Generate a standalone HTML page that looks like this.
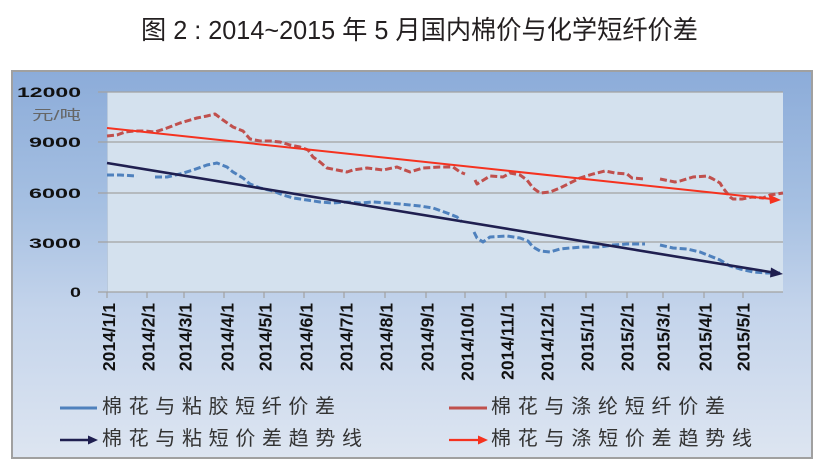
<!DOCTYPE html>
<html>
<head>
<meta charset="utf-8">
<style>
html,body{margin:0;padding:0;background:#fff;}
svg{display:block;}
</style>
</head>
<body>
<svg width="823" height="468" viewBox="0 0 823 468" xmlns="http://www.w3.org/2000/svg">
  <defs>
    <linearGradient id="bg" x1="0" y1="0" x2="0" y2="1">
      <stop offset="0" stop-color="#8cacd9"/>
      <stop offset="0.35" stop-color="#a6c0e2"/>
      <stop offset="0.62" stop-color="#c4d4eb"/>
      <stop offset="1" stop-color="#dde5f1"/>
    </linearGradient>
  </defs>

  <!-- Title -->
  <text x="141" y="39" font-family="'Liberation Sans','Noto Sans CJK SC',sans-serif" font-size="26" fill="#231f20" textLength="557" lengthAdjust="spacingAndGlyphs">图 2 : 2014~2015 年 5 月国内棉价与化学短纤价差</text>

  <!-- Chart box -->
  <rect x="12" y="71" width="800" height="387" fill="url(#bg)" stroke="#a0a0a0" stroke-width="2"/>

  <!-- Plot area -->
  <rect x="107" y="92" width="676" height="200" fill="#d4e1ee"/>
  <line x1="107.5" y1="92" x2="107.5" y2="292" stroke="#b9c9dc" stroke-width="1"/>

  <!-- gridlines -->
  <g stroke="#a2a2a2" stroke-width="1.2">
    <line x1="98" y1="92" x2="783" y2="92"/>
    <line x1="98" y1="142" x2="783" y2="142"/>
    <line x1="98" y1="193" x2="783" y2="193"/>
    <line x1="98" y1="242" x2="783" y2="242"/>
    <line x1="98" y1="292" x2="783" y2="292"/>
  </g>
  <!-- x ticks -->
  <g stroke="#a2a2a2" stroke-width="1.2">
    <line x1="107" y1="292" x2="107" y2="298"/>
    <line x1="147" y1="292" x2="147" y2="298"/>
    <line x1="184" y1="292" x2="184" y2="298"/>
    <line x1="224" y1="292" x2="224" y2="298"/>
    <line x1="264" y1="292" x2="264" y2="298"/>
    <line x1="304" y1="292" x2="304" y2="298"/>
    <line x1="344" y1="292" x2="344" y2="298"/>
    <line x1="385" y1="292" x2="385" y2="298"/>
    <line x1="426" y1="292" x2="426" y2="298"/>
    <line x1="465" y1="292" x2="465" y2="298"/>
    <line x1="506" y1="292" x2="506" y2="298"/>
    <line x1="545" y1="292" x2="545" y2="298"/>
    <line x1="586" y1="292" x2="586" y2="298"/>
    <line x1="627" y1="292" x2="627" y2="298"/>
    <line x1="663" y1="292" x2="663" y2="298"/>
    <line x1="704" y1="292" x2="704" y2="298"/>
    <line x1="743" y1="292" x2="743" y2="298"/>
  </g>

  <!-- Y labels -->
  <g font-family="'Liberation Sans',sans-serif" font-weight="bold" font-size="14" fill="#111" text-anchor="end">
    <text x="81" y="97" textLength="64" lengthAdjust="spacingAndGlyphs">12000</text>
    <text x="81" y="147" textLength="52" lengthAdjust="spacingAndGlyphs">9000</text>
    <text x="81" y="198" textLength="52" lengthAdjust="spacingAndGlyphs">6000</text>
    <text x="81" y="248" textLength="52" lengthAdjust="spacingAndGlyphs">3000</text>
    <text x="81" y="297" textLength="11" lengthAdjust="spacingAndGlyphs">0</text>
  </g>
  <text x="81" y="120" text-anchor="end" font-family="'Liberation Sans','Noto Sans CJK SC',sans-serif" font-size="14" fill="#666" textLength="49" lengthAdjust="spacingAndGlyphs">元/吨</text>

  <!-- X labels (rotated) -->
  <g font-family="'Liberation Sans',sans-serif" font-weight="bold" font-size="17.5" fill="#111" text-anchor="end">
    <text transform="translate(115,303) rotate(-90)">2014/1/1</text>
    <text transform="translate(154.5,303) rotate(-90)">2014/2/1</text>
    <text transform="translate(191.5,303) rotate(-90)">2014/3/1</text>
    <text transform="translate(233.5,303) rotate(-90)">2014/4/1</text>
    <text transform="translate(271.5,303) rotate(-90)">2014/5/1</text>
    <text transform="translate(312.5,303) rotate(-90)">2014/6/1</text>
    <text transform="translate(352.5,303) rotate(-90)">2014/7/1</text>
    <text transform="translate(392.5,303) rotate(-90)">2014/8/1</text>
    <text transform="translate(433.5,303) rotate(-90)">2014/9/1</text>
    <text transform="translate(473.5,303) rotate(-90)">2014/10/1</text>
    <text transform="translate(513.5,303) rotate(-90)">2014/11/1</text>
    <text transform="translate(553.5,303) rotate(-90)">2014/12/1</text>
    <text transform="translate(593.5,303) rotate(-90)">2015/1/1</text>
    <text transform="translate(633.5,303) rotate(-90)">2015/2/1</text>
    <text transform="translate(669.5,303) rotate(-90)">2015/3/1</text>
    <text transform="translate(711.5,303) rotate(-90)">2015/4/1</text>
    <text transform="translate(749.5,303) rotate(-90)">2015/5/1</text>
  </g>

  <!-- Red dashed series (cotton vs polyester) -->
  <g fill="none" stroke="#c0504d" stroke-width="3" stroke-dasharray="7 3" stroke-linejoin="round">
    <polyline points="107,136 117,135 125,132 135,131 145,131 155,132 167,128 180,123 197,118 207,116 215,114 223,120 233,127 243,131 250,139 260,141 270,141 280,142 290,145 300,147 308,150 313,157 320,162 327,168 337,170 347,172 353,170 367,168 383,170 397,167 410,172 423,168 440,167 453,167 460,172 465,174"/>
    <polyline points="475,180 477,184 490,176 503,177 510,173 520,175 527,180 533,188 540,193 550,192 560,188 570,183 580,178 593,174 605,171 615,173 627,174 632,178 645,179"/>
    <polyline points="660,179 675,182 680,181 693,177 707,176 713,179 720,183 723,188 727,193 730,197 733,199 742,199 752,197 763,198 770,195 783,193"/>
  </g>

  <!-- Blue dashed series (cotton vs viscose) -->
  <g fill="none" stroke="#4f81bd" stroke-width="3" stroke-dasharray="7 3" stroke-linejoin="round">
    <polyline points="107,175 120,175 137,176"/>
    <polyline points="155,177 167,177 180,174 193,170 207,165 217,163 227,167 233,172 243,178 250,184 260,188 273,191 283,195 293,198 307,200 320,202 333,203 347,202 360,203 373,202 387,203 400,204 420,206 433,208 447,213 457,217 462,222"/>
    <polyline points="474,232 477,238 483,242 490,237 507,236 520,238 528,241 533,247 540,251 550,252 560,249 570,248 583,247 600,247 613,245 627,244 645,244"/>
    <polyline points="660,245 673,248 687,249 700,252 710,256 720,260 730,266 740,269 753,272 767,273 780,273"/>
  </g>

  <!-- Trend lines -->
  <line x1="107" y1="128" x2="772" y2="199" stroke="#f5321f" stroke-width="2"/>
  <polygon points="781,200 769,194.5 770,204" fill="#f5321f"/>
  <line x1="107" y1="163" x2="773" y2="272.5" stroke="#1f1f50" stroke-width="2.6"/>
  <polygon points="783,274 771,267.5 770,277.5" fill="#1f1f50"/>

  <!-- Legend -->
  <line x1="60" y1="408" x2="97" y2="408" stroke="#4f81bd" stroke-width="3"/>
  <line x1="449" y1="408" x2="487" y2="408" stroke="#c0504d" stroke-width="3"/>
  <line x1="60" y1="440" x2="89" y2="440" stroke="#1f1f50" stroke-width="2.6"/>
  <polygon points="98,440 88,435.5 88,444.5" fill="#1f1f50"/>
  <line x1="449" y1="440" x2="479" y2="440" stroke="#f5321f" stroke-width="2.2"/>
  <polygon points="488,440 478,435.5 478,444.5" fill="#f5321f"/>

  <g font-family="'Liberation Sans','Noto Sans CJK SC',sans-serif" font-size="20" fill="#333">
    <text x="102" y="413" textLength="233" lengthAdjust="spacing">棉花与粘胶短纤价差</text>
    <text x="102" y="445" textLength="260" lengthAdjust="spacing">棉花与粘短价差趋势线</text>
    <text x="491" y="413" textLength="234" lengthAdjust="spacing">棉花与涤纶短纤价差</text>
    <text x="491" y="445" textLength="261" lengthAdjust="spacing">棉花与涤短价差趋势线</text>
  </g>
</svg>
</body>
</html>
